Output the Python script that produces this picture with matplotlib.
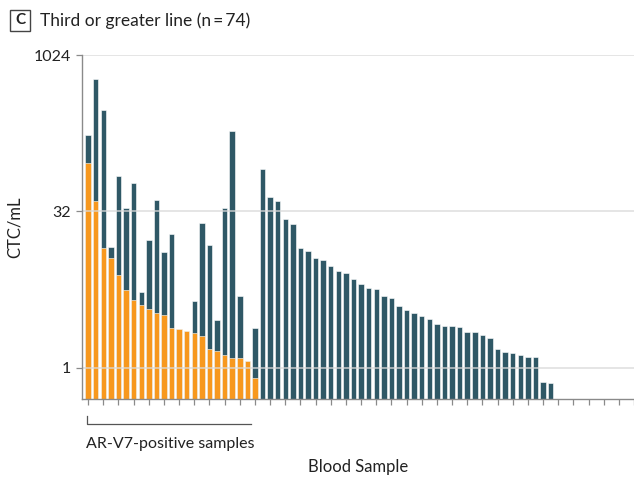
import matplotlib.pyplot as plt
import matplotlib.patches as patches
import numpy as np

# AR-V7 positive CTC count (orange) and total CTC/mL (dark) per blood sample
total_ctc = [174, 602, 303, 14.5, 69.5, 34.7, 60, 5.3, 17, 40.8, 13, 19.4,
             2.37, 2.28, 4.34, 24.7, 15.2, 2.91, 34.5, 189, 4.95, 1.17, 2.42,
             81.6, 44, 40, 26.8, 24.4, 14.2, 13.3, 11.5, 10.9, 9.56, 8.55, 8.23,
             7.16, 6.41, 5.91, 5.74, 4.88, 4.66, 3.97, 3.58, 3.38, 3.13, 2.95,
             2.66, 2.51, 2.51, 2.44, 2.23, 2.22, 2.06, 1.95, 1.51, 1.43, 1.39,
             1.33, 1.28, 1.27, 0.73, 0.72]
arv7_ctc = [93, 40, 14.1, 11.5, 7.8, 5.57, 4.46, 4.0, 3.69, 3.37, 3.23, 2.4,
            2.37, 2.28, 2.17, 2.04, 1.52, 1.44, 1.34, 1.25, 1.23, 1.17, 0.80]
n_samples = 74
y_ticks = [1, 32, 1024]

ORANGE = '#F7981E'
DARK = '#2F5866'

plt.rcParams['font.family'] = ['Lato', 'DejaVu Sans']

fig = plt.figure(figsize=(6.34, 4.78), dpi=100)
ax = fig.add_axes([0.1289, 0.1653, 0.8711, 0.7196])

x_tot = np.arange(len(total_ctc))
x_pos = np.arange(len(arv7_ctc))
ax.bar(x_tot, total_ctc, width=0.72, color=DARK, edgecolor='white',
       linewidth=0.4, zorder=2)
ax.bar(x_pos, arv7_ctc, width=0.72, color=ORANGE, edgecolor='white',
       linewidth=0.4, zorder=3)

ax.set_yscale('log', base=2)
ax.set_ylim(0.5, 1024)
ax.set_xlim(-0.85, 71.9)
ax.set_yticks(y_ticks)
ax.set_yticklabels([str(t) for t in y_ticks])
ax.minorticks_off()
ax.set_xticks(np.arange(0, n_samples, 2))
ax.set_xticklabels([])

for t in y_ticks:
    ax.axhline(t, color='#d9d9d9', linewidth=1.2, alpha=0.8, zorder=4)

for side in ['top', 'right']:
    ax.spines[side].set_visible(False)
for side in ['left', 'bottom']:
    ax.spines[side].set_color('#8a8a8a')
    ax.spines[side].set_linewidth(1.0)
    ax.spines[side].set_zorder(5)
ax.tick_params(axis='both', colors='#8a8a8a', length=4, width=0.9,
               labelcolor='#222222', labelsize=11.5)

ax.set_ylabel('CTC/mL', fontsize=12, color='#222222', labelpad=8)

# bracket for AR-V7-positive samples
bx0, bx1 = -0.1, len(arv7_ctc) - 1.5
ax.plot([bx0, bx0, bx1], [0.34, 0.285, 0.285], color='#555555',
        linewidth=0.9, clip_on=False)
ax.text(bx0 - 0.2, 0.185, 'AR-V7-positive samples', fontsize=11.5,
        color='#222222', ha='left', va='center')

fig.text(0.565, 1 - 467 / 478, 'Blood Sample', fontsize=12, color='#222222',
         ha='center', va='center')

# panel label and title
fig.patches.append(patches.Rectangle((10 / 634, 1 - 31 / 478), 20 / 634, 21 / 478,
                                     transform=fig.transFigure, fill=False,
                                     edgecolor='#444444', linewidth=1.0))
fig.text(20 / 634, 1 - 20.5 / 478, 'C', fontsize=11, fontweight='bold',
         ha='center', va='center', color='#222222')
fig.text(40 / 634, 1 - 20.5 / 478, 'Third or greater line (n\u2009=\u200974)',
         fontsize=12.5, ha='left', va='center', color='#222222')

fig.savefig('out.png', dpi=100)
